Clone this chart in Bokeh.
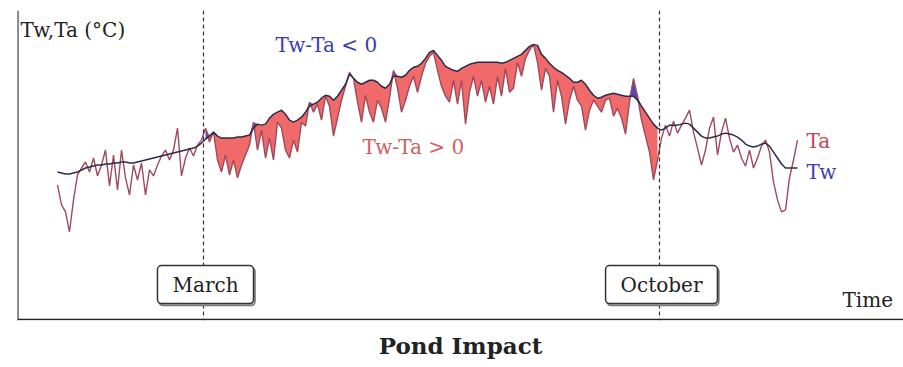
import numpy as np
from bokeh.plotting import figure
from bokeh.models import Span, Label, Title, Range1d
from bokeh.embed import file_html
from bokeh.resources import INLINE

# sampling days (every 2 days)
days = np.arange(20, 392, 2)

ta = [13.6, 11.6, 10.9, 8.9, 12.1, 14.6, 15.3, 15.9, 14.9, 16.3, 14.5, 15.6, 17.1, 13.5, 16.6, 13.1,
      17.1, 14.3, 12.6, 15.6, 14.1, 15.8, 12.6, 15.1, 14.5, 15.6, 16.5, 17.1, 16.1, 17.1, 19.3, 14.5,
      16.3, 17.3, 16.5, 17.6, 18.1, 19.3, 17.9, 18.9, 16.1, 14.9, 16.6, 14.6, 16.1, 14.3, 15.6, 16.6,
      17.6, 19.9, 17.1, 19.1, 16.3, 18.3, 16.1, 19.9, 19.3, 17.1, 16.3, 18.1, 16.9, 19.9, 19.5, 21.9,
      20.9, 21.7, 20.1, 22.5, 21.5, 18.5, 20.3, 22.1, 23.5, 24.9, 24.3, 21.9, 19.9, 22.6, 20.9, 19.9,
      22.1, 21.3, 19.9, 22.3, 25.1, 23.3, 20.9, 22.1, 23.5, 24.5, 22.9, 24.5, 25.8, 26.5, 26.9, 25.1,
      23.5, 22.5, 21.9, 24.1, 21.7, 24.1, 19.7, 22.9, 24.5, 22.5, 24.1, 21.9, 23.5, 21.7, 24.5, 22.5,
      25.3, 22.9, 23.3, 25.9, 24.5, 26.3, 27.1, 27.7, 25.9, 23.1, 25.3, 24.5, 20.9, 24.1, 22.5, 19.7,
      22.1, 23.5, 22.1, 21.5, 19.1, 21.1, 22.1, 21.5, 20.9, 22.1, 22.3, 20.5, 21.3, 20.3, 18.7, 21.9,
      24.3, 22.5, 20.1, 18.5, 16.9, 14.1, 16.1, 18.3, 19.6, 18.5, 20.0, 18.8, 19.6, 20.3, 21.1, 18.9,
      17.3, 15.6, 17.1, 19.3, 20.4, 16.6, 18.9, 20.3, 18.3, 16.9, 17.6, 16.3, 15.5, 17.1, 15.3, 16.3,
      17.5, 18.1, 16.9, 13.9, 12.1, 10.9, 11.1, 14.3, 16.1, 18.1]

tw = [14.9, 14.8, 14.7, 14.7, 14.8, 14.9, 15.1, 15.3, 15.4, 15.5, 15.6, 15.6, 15.7, 15.7, 15.8, 15.8,
      15.9, 15.9, 15.8, 15.8, 15.9, 16.0, 16.1, 16.2, 16.3, 16.4, 16.5, 16.6, 16.7, 16.8, 16.9, 17.0,
      17.1, 17.2, 17.3, 17.5, 17.8, 18.2, 18.5, 18.9, 18.5, 18.3, 18.3, 18.3, 18.3, 18.4, 18.4, 18.5,
      18.6, 19.3, 19.7, 19.6, 19.7, 20.3, 20.7, 20.9, 21.1, 20.7, 20.1, 19.9, 20.1, 20.4, 20.9, 21.5,
      21.7, 21.9, 22.3, 22.6, 22.5, 22.1, 22.5, 23.1, 23.7, 24.7, 24.3, 23.9, 23.7, 23.9, 24.1, 24.1,
      23.9, 23.5, 23.3, 23.7, 24.5, 24.5, 24.4, 24.6, 25.1, 25.4, 25.5, 25.8, 26.3, 26.9, 27.1, 26.6,
      26.1, 25.5, 25.3, 25.1, 25.0, 25.3, 25.5, 25.7, 25.8, 25.9, 25.9, 25.9, 25.9, 25.9, 25.9, 25.8,
      25.9, 26.1, 26.3, 26.5, 26.7, 27.1, 27.5, 27.7, 27.6, 26.7, 26.3, 25.8, 25.4, 25.1, 24.9, 24.6,
      24.3, 23.9, 23.9, 24.1, 23.7, 23.1, 22.6, 22.3, 22.4, 22.6, 22.7, 22.8, 22.7, 22.6, 22.5, 22.5,
      22.5, 22.1, 21.5, 20.9, 20.3, 19.7, 19.3, 19.1, 19.3, 19.6, 19.6, 19.6, 19.7, 19.8, 19.7, 19.3,
      18.9, 18.5, 18.3, 18.3, 18.4, 18.5, 18.7, 18.8, 18.7, 18.6, 18.4, 18.1, 17.7, 17.5, 17.4, 17.5,
      17.7, 17.8, 17.5, 16.9, 16.3, 15.7, 15.3, 15.3, 15.3, 15.3]

march_day = 93
october_day = 321

assert len(ta) == len(days) and len(tw) == len(days)

ta_a = np.array(ta)
tw_a = np.array(tw)

FONT = "DejaVu Serif"

p = figure(width=903, height=367, output_backend="svg", toolbar_location=None,
           x_range=Range1d(0, 443), y_range=Range1d(0, 31.1),
           min_border_left=17, min_border_right=0, min_border_top=10, min_border_bottom=20)
p.xaxis.visible = False
p.yaxis.visible = False
p.xgrid.visible = False
p.ygrid.visible = False
p.outline_line_color = None

# fill between March and October
m = (days >= march_day) & (days <= october_day)
d = days[m]
a = ta_a[m]
w = tw_a[m]
p.varea(x=d, y1=a, y2=np.maximum(a, w), fill_color="#f06a6a", fill_alpha=1.0)
p.varea(x=d, y1=w, y2=np.maximum(a, w), fill_color="#4a4ac4", fill_alpha=1.0)

p.line(days, ta_a, line_color="#9e4a5c", line_width=1.4)
p.line(days, tw_a, line_color="#2c2c48", line_width=1.5)

# axes lines
p.add_layout(Span(location=0.15, dimension="height", line_color="#222", line_width=1.5))
p.add_layout(Span(location=0.1, dimension="width", line_color="#222", line_width=1.5))

for dd in (march_day, october_day):
    p.add_layout(Span(location=dd, dimension="height", line_color="#333",
                      line_width=1.2, line_dash="4 3"))

def lab(x, y, text, color="#222", size="20px", align="left", **kw):
    p.add_layout(Label(x=x, y=y, text=text, text_color=color, text_font=FONT,
                       text_font_size=size, text_align=align, text_baseline="middle", **kw))

lab(1.5, 29.1, "Tw,Ta (°C)")
lab(129, 27.6, "Tw-Ta < 0", color="#3a3ab0")
lab(172.5, 17.4, "Tw-Ta > 0", color="#d06060")
lab(394.5, 18.0, "Ta", color="#c04858")
lab(394.5, 14.9, "Tw", color="#4040b0")
lab(412.5, 2.1, "Time")
for dd, txt in ((march_day + 1, "March"), (october_day + 1, "October")):
    # shadow
    p.add_layout(Label(x=dd, y=3.6, text=txt, text_color="#222", text_font=FONT,
                       text_font_size="20px", text_align="center", text_baseline="middle",
                       x_offset=1.5, y_offset=-2,
                       background_fill_color="#bbbbbb", border_line_color="#777",
                       border_line_width=1.5, padding=(15, 7), border_radius=4))
    p.add_layout(Label(x=dd, y=3.6, text=txt, text_color="#222", text_font=FONT,
                       text_font_size="20px", text_align="center", text_baseline="middle",
                       background_fill_color="white", border_line_color="#333",
                       border_line_width=1.5, padding=(15, 7), border_radius=4))

p.add_layout(Title(text="Pond Impact", align="center", text_font=FONT,
                   text_font_size="23px", text_font_style="bold", text_color="#222",
                   standoff=18), "below")

open("out.html", "w").write(file_html(p, INLINE))
